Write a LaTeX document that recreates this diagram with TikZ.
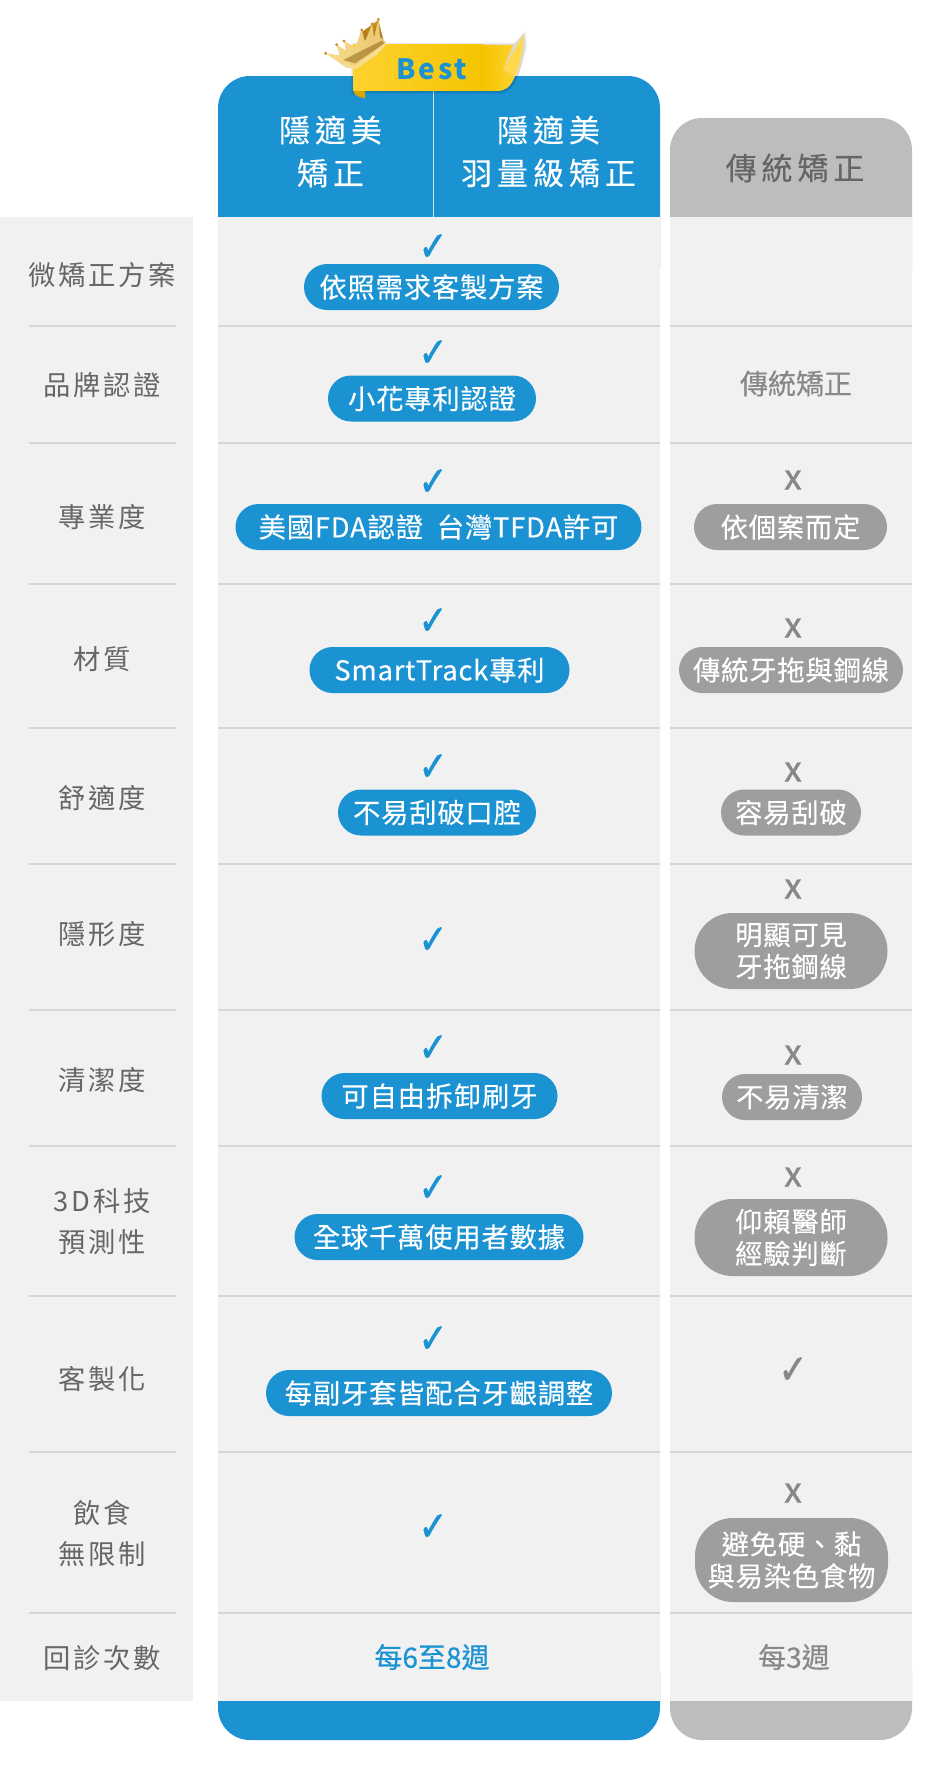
\documentclass[tikz,border=0pt]{standalone}
\usepackage{fontspec}
\usetikzlibrary{shapes.misc}
\newfontfamily\cjkreg[LetterSpace=3,FakeBold=0.25]{Noto Sans CJK TC}
\newfontfamily\cjkside[LetterSpace=10]{Noto Sans CJK TC}
\newfontfamily\cjkhead[LetterSpace=16,FakeBold=0.2]{Noto Sans CJK TC}
\newfontfamily\cjkbest[LetterSpace=10]{Noto Sans CJK TC}
\newfontfamily\cjkplain{Noto Sans CJK TC}
\newfontfamily\cjkcell[FakeBold=0.35]{Noto Sans CJK TC}
\newfontfamily\cjkx[FakeBold=1.2]{Noto Sans CJK TC}
\newfontfamily\checkfont[FakeBold=1.6]{DejaVu Sans}
\newcommand{\tickmark}{\scalebox{0.9}[1.08]{✓}}
\definecolor{bluemain}{HTML}{1B93D3}
\definecolor{grayhead}{HTML}{BDBDBD}
\definecolor{panel}{HTML}{F1F1F1}
\definecolor{rulegray}{HTML}{D6D6D6}
\definecolor{pillgray}{HTML}{9E9E9E}
\definecolor{textdark}{HTML}{666666}
\definecolor{textmid}{HTML}{888888}
\definecolor{goldA}{HTML}{FDD22F}
\definecolor{goldB}{HTML}{F5C400}
\definecolor{goldC}{HTML}{FFD84D}
\definecolor{goldD}{HTML}{D9A400}
\definecolor{crownA}{HTML}{F6DC8C}
\definecolor{crownB}{HTML}{CE9428}
\definecolor{crownC}{HTML}{8A5A12}
\tikzset{
  rulestyle/.style={draw=rulegray,line width=1.3pt},
  rowlabel/.style={text=textdark,align=center,inner sep=0pt,font=\fontsize{27.3}{41}\selectfont\cjkside},
  headtext/.style={text=white,align=center,inner sep=0pt,font=\fontsize{31}{43}\selectfont\cjkhead},
  pillbase/.style={rounded corners=23pt,text=white,inner sep=0pt,minimum height=46pt,align=center,font=\fontsize{27.3}{32}\selectfont\cjkreg},
  pillblue/.style={pillbase,fill=bluemain},
  pillgray/.style={pillbase,fill=pillgray},
  pilltall/.style={pillgray,rounded corners=38pt},
  checkblue/.style={text=bluemain,inner sep=0pt,font=\fontsize{38}{38}\selectfont\checkfont},
  checkgray/.style={text=textmid,inner sep=0pt,font=\fontsize{38}{38}\selectfont\checkfont},
  xmark/.style={text=textmid,inner sep=0pt,font=\fontsize{35}{35}\selectfont\cjkx},
  celltext/.style={inner sep=0pt,font=\fontsize{28}{30}\selectfont\cjkcell},
}
\begin{document}
\begin{tikzpicture}[x=1pt,y=-1pt]
\useasboundingbox (0,0) rectangle (950,1785);
% header and footer caps
\fill[bluemain,rounded corners=32pt] (218,76) rectangle (660,300);
\fill[grayhead,rounded corners=32pt] (670,118) rectangle (912,300);
\fill[bluemain,rounded corners=32pt] (218,1640) rectangle (660,1740);
\fill[grayhead,rounded corners=32pt] (670,1640) rectangle (912,1740);
% panels
\fill[panel] (0,217) rectangle (192.7,1701);
\fill[panel] (218,217) rectangle (660,1701);
\fill[panel] (670,217) rectangle (912,1701);
\draw[white!75!bluemain,line width=1pt] (433,90) -- (433,217);
% rules
\foreach \yy in {326,443,584,728,864,1010,1146,1296,1452,1613}{
  \draw[rulestyle] (29,\yy) -- (176,\yy);
  \draw[rulestyle] (218,\yy) -- (660,\yy);
  \draw[rulestyle] (670,\yy) -- (912,\yy);
}
% header text
\node[headtext] (h1) at (330.5,151.5) {隱適美\\矯正};
\node[headtext] (h2) at (548.5,151.5) {隱適美\\羽量級矯正};
\node[headtext,text=textdark] (h3) at (795,168) {傳統矯正};
% row labels
\node[rowlabel] (l1) at (102.5,275.5) {微矯正方案};
\node[rowlabel] (l2) at (102,385) {品牌認證};
\node[rowlabel] (l3) at (102,517) {專業度};
\node[rowlabel] (l4) at (102,659) {材質};
\node[rowlabel] (l5) at (102,798) {舒適度};
\node[rowlabel] (l6) at (102,934.5) {隱形度};
\node[rowlabel] (l7) at (102,1080) {清潔度};
\node[rowlabel] (l8) at (102,1222) {3D科技\\預測性};
\node[rowlabel] (l9) at (102,1379) {客製化};
\node[rowlabel] (l10) at (102,1533.5) {飲食\\無限制};
\node[rowlabel] (l11) at (102,1658) {回診次數};
% blue checks
\node[checkblue] (c1) at (433,247.5) {\tickmark};
\node[checkblue] (c2) at (433,353.5) {\tickmark};
\node[checkblue] (c3) at (433,482.5) {\tickmark};
\node[checkblue] (c4) at (433,621.5) {\tickmark};
\node[checkblue] (c5) at (433,767.5) {\tickmark};
\node[checkblue] (c6) at (433,940.5) {\tickmark};
\node[checkblue] (c7) at (433,1048.5) {\tickmark};
\node[checkblue] (c8) at (433,1188.5) {\tickmark};
\node[checkblue] (c9) at (433,1339.5) {\tickmark};
\node[checkblue] (c10) at (433,1527.5) {\tickmark};
% blue pills
\node[pillblue,minimum width=255pt] (p1) at (431.5,287) {依照需求客製方案};
\node[pillblue,minimum width=208pt] (p2) at (432,398.5) {小花專利認證};
\node[pillblue,minimum width=406pt] (p3) at (438.5,527) {美國FDA認證\ \ 台灣TFDA許可};
\node[pillblue,minimum width=260pt] (p4) at (439.5,670) {SmartTrack專利};
\node[pillblue,minimum width=198pt] (p5) at (437,812.5) {不易刮破口腔};
\node[pillblue,minimum width=236pt] (p7) at (439.5,1096) {可自由拆卸刷牙};
\node[pillblue,minimum width=289pt] (p8) at (439,1237) {全球千萬使用者數據};
\node[pillblue,minimum width=346pt] (p9) at (439,1393) {每副牙套皆配合牙齦調整};
% gray column
\node[celltext,text=textmid] (g2) at (796,383.5) {傳統矯正};
\node[xmark] (x3) at (793,480) {x};
\node[pillgray,minimum width=193pt] (g3) at (790.5,527) {依個案而定};
\node[xmark] (x4) at (793,628) {x};
\node[pillgray,minimum width=224pt] (g4) at (791,670) {傳統牙拖與鋼線};
\node[xmark] (x5) at (793,772) {x};
\node[pillgray,minimum width=140pt] (g5) at (791,812.5) {容易刮破};
\node[xmark] (x6) at (793,889) {x};
\node[pilltall,minimum width=193pt,minimum height=76pt] (g6) at (791,951) {明顯可見\\牙拖鋼線};
\node[xmark] (x7) at (793,1055) {x};
\node[pillgray,minimum width=140pt] (g7) at (792,1097) {不易清潔};
\node[xmark] (x8) at (793,1177) {x};
\node[pilltall,minimum width=193pt,minimum height=77pt] (g8) at (791,1237.5) {仰賴醫師\\經驗判斷};
\node[checkgray] (cg9) at (793,1370.5) {\tickmark};
\node[xmark] (x10) at (793,1493) {x};
\node[pilltall,minimum width=193pt,minimum height=84pt] (g10) at (791.5,1560) {避免硬、黏\\與易染色食物};
\node[celltext,text=bluemain] (t11) at (432,1657) {每6至8週};
\node[celltext,text=textmid] (g11) at (794,1657) {每3週};
% banner and crown, in crop units
\begin{scope}[shift={(310,10)},x=0.33333pt,y=-0.33333pt]
  \foreach \ss/\oo in {8/0.04,5/0.05,2/0.07}{
    \fill[black,opacity=\oo] (130-\ss,105-\ss) -- (610+\ss,105-\ss) -- (640+\ss,70-\ss) -- (644+\ss,110) .. controls (630,190) and (615,250) .. (565,245+\ss) -- (165,245+\ss) -- (130-\ss,248+\ss) -- cycle;
  }
  \fill[goldD] (130,240) -- (165,243) -- (165,266) -- (142,258) .. controls (135,255) and (130,250) .. (130,240) -- cycle;
  \shade[left color=goldA,right color=goldB] (130,105) -- (520,105) -- (520,243) -- (130,243) -- cycle;
  \shade[left color=goldB,right color=goldA] (520,105) -- (610,105) -- (578,180) .. controls (600,185) and (612,195) .. (612,205) .. controls (600,232) and (585,243) .. (560,243) -- (520,243) -- cycle;
  \fill[goldC] (640,72) .. controls (644,120) and (625,180) .. (612,205) .. controls (610,190) and (595,182) .. (578,180) -- (610,125) .. controls (620,110) and (632,90) .. (640,72) -- cycle;
  \node[text=bluemain,inner sep=0pt,font=\fontsize{28}{28}\selectfont\cjkbest\bfseries] (best) at (365,178) {Best};
  % crown
  \shade[top color=crownB,bottom color=crownC] (150,70) -- (205,30) -- (222,98) -- (150,140) -- cycle;
  \shade[left color=crownA,middle color=crownB,right color=crownA!70!crownB]
    (105,170) -- (47,130) -- (88,136) -- (80,104) -- (108,122) -- (102,93) -- (136,112) -- (155,60) -- (165,94) -- (187,42) -- (192,84) -- (205,28) -- (210,80) -- (226,96) -- (228,104) -- (200,135) -- (140,176) -- cycle;
  \fill[crownC,opacity=0.5] (100,150) -- (215,92) -- (224,100) -- (135,160) -- cycle;
  \shade[left color=crownA,middle color=crownB,right color=crownA] (103,158) -- (135,168) -- (226,98) -- (228,105) -- (200,135) -- (138,176) -- (105,172) -- cycle;
  \foreach \bx/\by in {47/130,80/104,102/93,155/60,187/42,205/28}{
    \fill[crownB] (\bx,\by) circle[radius=5];
  }
\end{scope}
\end{tikzpicture}
\end{document}
